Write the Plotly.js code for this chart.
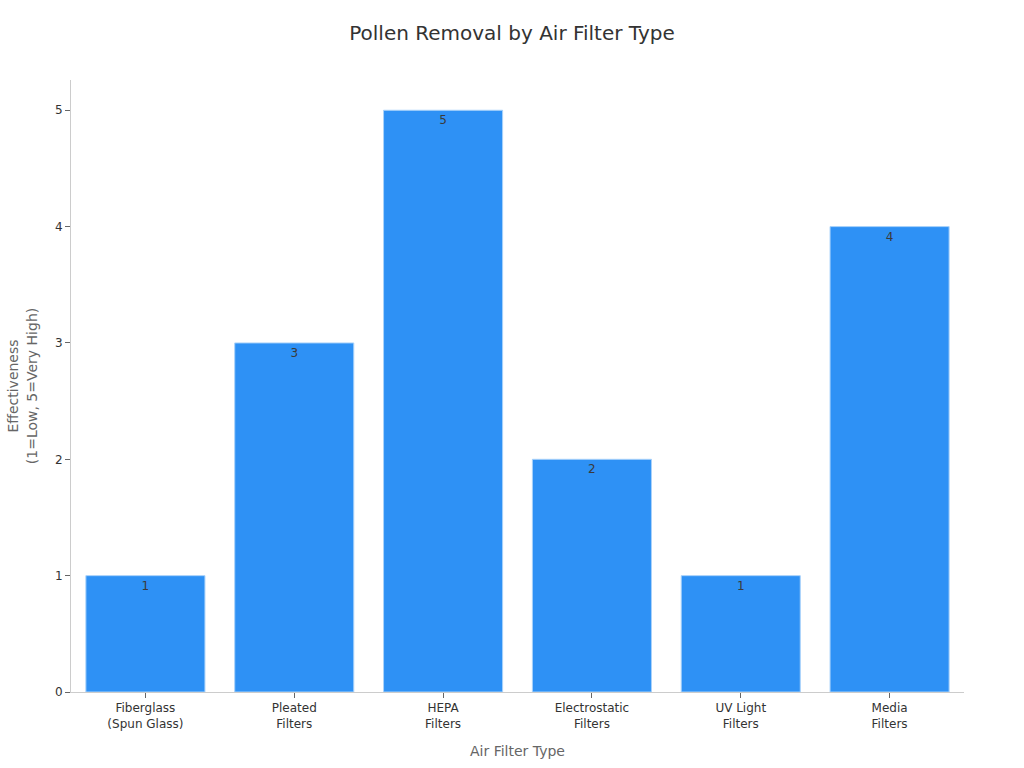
<!DOCTYPE html>
<html>
<head>
<meta charset="utf-8">
<script src="https://cdn.plot.ly/plotly-3.0.1.min.js"></script>
<style>html,body{margin:0;padding:0;background:#fff;}#chart{width:1024px;height:768px;}</style>
</head>
<body>
<div id="chart"></div>
<script>
var categories = ["Fiberglass<br>(Spun Glass)", "Pleated<br>Filters", "HEPA<br>Filters", "Electrostatic<br>Filters", "UV Light<br>Filters", "Media<br>Filters"];
var effectiveness = [1, 3, 5, 2, 1, 4];
var yTicks = [0, 1, 2, 3, 4, 5];

var trace = {
  type: "bar",
  x: categories,
  y: effectiveness,
  text: effectiveness.map(String),
  textposition: "inside",
  insidetextanchor: "end",
  textfont: {family: "DejaVu Sans", size: 12, color: "#3a3a3a"},
  marker: {color: "#2E91F5", line: {color: "#A9D2FA", width: 1}},
  hoverinfo: "x+y"
};

var layout = {
  width: 1024, height: 768,
  margin: {l: 71, r: 60, t: 80, b: 76},
  paper_bgcolor: "#ffffff", plot_bgcolor: "#ffffff",
  font: {family: "DejaVu Sans", color: "#333333", size: 12},
  title: {text: "Pollen Removal by Air Filter Type", x: 0.5, xanchor: "center", y: 0.957, yanchor: "middle", font: {size: 20, color: "#333333"}},
  bargap: 0.2,
  showlegend: false,
  xaxis: {
    title: {text: "Air Filter Type", font: {size: 14, color: "#666666"}, standoff: 16},
    showline: true, linecolor: "#cccccc", linewidth: 1,
    ticks: "outside", ticklen: 5, tickcolor: "#666666",
    tickfont: {size: 12, color: "#333333"},
    showgrid: false, zeroline: false
  },
  yaxis: {
    title: {text: "Effectiveness<br>(1=Low, 5=Very High)", font: {size: 14, color: "#666666"}, standoff: 14},
    range: [0, 5.26],
    tickvals: yTicks,
    showline: true, linecolor: "#cccccc", linewidth: 1,
    ticks: "outside", ticklen: 5, tickcolor: "#666666",
    tickfont: {size: 12, color: "#333333"},
    showgrid: false, zeroline: false
  }
};

Plotly.newPlot("chart", [trace], layout, {displayModeBar: false, staticPlot: true});
</script>
</body>
</html>
